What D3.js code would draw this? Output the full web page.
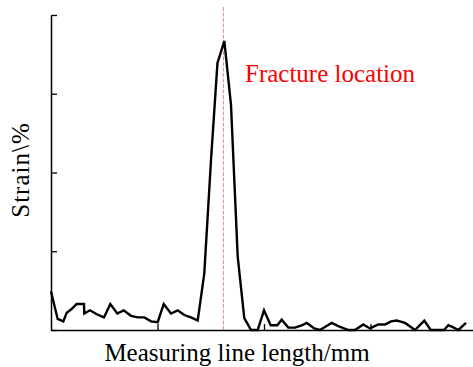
<!DOCTYPE html>
<html>
<head>
<meta charset="utf-8">
<script src="https://cdn.jsdelivr.net/npm/d3@7"></script>
<style>
  body { margin: 0; background: #fff; }
</style>
</head>
<body>
<svg id="chart" width="473" height="367"></svg>
<script>
// measuring position (mm) and strain (%)
const positions = [0, 1, 1.85, 2.36, 3, 3.86, 4.96, 5, 5.86, 6.87, 7.96, 8.91, 9.96, 10.92, 12.02, 13.03,
  14.02, 15.03, 16.03, 16.93, 18.03, 19.04, 20.03, 21.03, 22.04, 23.03, 24.04, 25.01, 26.04, 27.04, 28.05,
  29.04, 30.05, 31.05, 32, 33, 34, 34.66, 35.65, 36.66, 37.66, 38.42, 39.56, 40.4, 41.4, 42.17, 43.16,
  44.67, 45.67, 46.92, 47.93, 49.17, 50.18, 51.08, 51.94, 53.19, 54.69, 56.08, 57.05, 58, 59.05, 59.7,
  60.3, 61.2, 62.35];
const strain = [0.49, 0.14, 0.11, 0.22, 0.26, 0.33, 0.33, 0.21, 0.25, 0.2, 0.16, 0.33, 0.21, 0.25, 0.18, 0.16,
  0.16, 0.11, 0.1, 0.33, 0.21, 0.25, 0.19, 0.16, 0.12, 0.72, 2.16, 3.39, 3.67, 2.86, 0.93,
  0.15, 0, 0, 0.25, 0.06, 0.06, 0.13, 0.03, 0.03, 0.06, 0.09, 0.02, 0, 0.05, 0.09, 0.05,
  0, 0, 0.07, 0.02, 0.07, 0.07, 0.11, 0.12, 0.09, 0, 0.12, 0, 0, 0, 0.06,
  0.04, 0, 0.09];
const xTicks = [16, 32, 48];
const yTicks = [0, 1, 2, 3, 4];
const fractureAt = 25.9;

const serif = "'Liberation Serif', 'DejaVu Serif', serif";

const svg = d3.select("#chart");
const x = d3.scaleLinear([0, 64], [51, 477]);
const y = d3.scaleLinear([0, 4], [330, 15]);

// axes, ticks pointing inward, no labels
svg.append("g")
    .attr("transform", "translate(51,0)")
    .call(d3.axisRight(y).tickValues(yTicks).tickSize(6).tickFormat("").tickSizeOuter(0))
    .call(g => g.select(".domain").attr("stroke-width", 1.5))
    .call(g => g.selectAll(".tick line").attr("stroke-width", 1.3));

svg.append("g")
    .attr("transform", "translate(0,330)")
    .call(d3.axisTop(x).tickValues(xTicks).tickSize(6).tickFormat("").tickSizeOuter(0))
    .call(g => g.select(".domain").attr("stroke-width", 1.5))
    .call(g => g.selectAll(".tick line").attr("stroke-width", 1.3));

// fracture marker
svg.append("line")
    .attr("x1", x(fractureAt)).attr("x2", x(fractureAt))
    .attr("y1", 7).attr("y2", 330)
    .attr("stroke", "#ee7788").attr("stroke-width", 0.9)
    .attr("stroke-dasharray", "4,1.5");

svg.append("text")
    .attr("x", 245).attr("y", 82)
    .attr("fill", "red").attr("font-size", 25)
    .style("font-family", serif)
    .text("Fracture location");

// strain curve
const pts = positions.map((p, i) => [p, strain[i]]);
svg.append("path")
    .datum(pts)
    .attr("fill", "none")
    .attr("stroke", "#000")
    .attr("stroke-width", 2.4)
    .attr("d", d3.line().x(d => x(d[0])).y(d => y(d[1])));

// axis titles
svg.append("text")
    .attr("x", 237).attr("y", 361)
    .attr("text-anchor", "middle").attr("font-size", 25)
    .style("font-family", serif)
    .text("Measuring line length/mm");

svg.append("text")
    .attr("transform", "translate(29,170) rotate(-90)")
    .attr("text-anchor", "middle").attr("font-size", 25)
    .attr("letter-spacing", 1)
    .style("font-family", serif)
    .text("Strain\\%");
</script>
</body>
</html>
